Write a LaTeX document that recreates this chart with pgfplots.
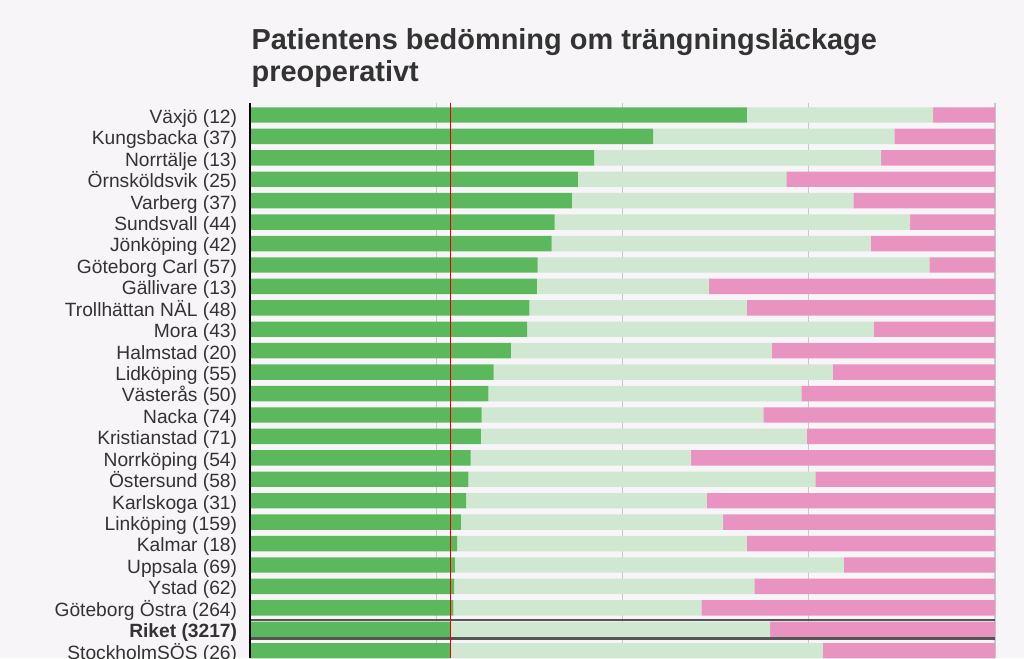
\documentclass[border=0pt]{standalone}
\usepackage{pgfplots}
\pgfplotsset{compat=1.18}
\usepackage{pgfplotstable}
\usepackage{fontspec}
\setmainfont{Liberation Sans}
\definecolor{bg}{HTML}{F7F5F8}
\definecolor{dgreen}{HTML}{5CB85C}
\definecolor{lgreen}{HTML}{D0E8D2}
\definecolor{pinkc}{HTML}{E994C0}
\definecolor{txt}{HTML}{333333}
\definecolor{gridc}{HTML}{C8C8C8}
\definecolor{sep}{HTML}{555555}
\definecolor{refred}{HTML}{E00000}
\pgfplotstableread{
idx g l p
0 66.7 25.0 8.3
1 54.1 32.4 13.5
2 46.2 38.5 15.3
3 44.0 28.0 28.0
4 43.2 37.8 19.0
5 40.9 47.7 11.4
6 40.5 42.8 16.7
7 38.6 52.6 8.8
8 38.5 23.1 38.4
9 37.5 29.2 33.3
10 37.2 46.5 16.3
11 35.0 35.0 30.0
12 32.7 45.5 21.8
13 32.0 42.0 26.0
14 31.1 37.8 31.1
15 31.0 43.7 25.3
16 29.6 29.6 40.8
17 29.3 46.6 24.1
18 29.0 32.3 38.7
19 28.3 35.2 36.5
20 27.8 38.9 33.3
21 27.5 52.2 20.3
22 27.4 40.3 32.3
23 27.3 33.3 39.4
24 26.9 42.9 30.2
25 26.9 50.0 23.1
}\data
\begin{document}
\begin{tikzpicture}
\useasboundingbox (-187.5pt,0pt) rectangle (580.5pt,493.5pt);
\fill[bg] (-187.5pt,0pt) rectangle (580.5pt,493.5pt);
\begin{scope}
\clip (-187.5pt,0pt) rectangle (580.5pt,493.5pt);
\node[anchor=base west, font=\fontsize{21.7}{25}\selectfont\bfseries, text=txt, inner sep=0pt] at (1pt,456.5pt) {Patientens bedömning om trängningsläckage};
\node[anchor=base west, font=\fontsize{21.7}{25}\selectfont\bfseries, text=txt, inner sep=0pt] at (1pt,432.5pt) {preoperativt};
\begin{axis}[
  at={(0pt,0pt)}, anchor=south west,
  scale only axis, width=558.75pt, height=416.5pt,
  xbar stacked, bar width=0.72,
  y dir=reverse,
  xmin=0, xmax=100, ymin=-0.574, ymax=25.34,
  axis line style={draw=none},
  major tick length=0pt,
  xtick={25,50,75,100}, xticklabels={},
  xmajorgrids, grid style={gridc, line width=0.9pt},
  ytick={0,...,25},
  yticklabels={Växjö (12),Kungsbacka (37),Norrtälje (13),Örnsköldsvik (25),Varberg (37),Sundsvall (44),Jönköping (42),Göteborg Carl (57),Gällivare (13),Trollhättan NÄL (48),Mora (43),Halmstad (20),Lidköping (55),Västerås (50),Nacka (74),Kristianstad (71),Norrköping (54),Östersund (58),Karlskoga (31),Linköping (159),Kalmar (18),Uppsala (69),Ystad (62),Göteborg Östra (264),\textbf{Riket (3217)},StockholmSÖS (26)},
  yticklabel style={anchor=base east, inner sep=0pt, xshift=-9.5pt, yshift=-6.3pt, font=\fontsize{14.4}{16}\selectfont, text=txt},
  clip=true,
]
\addplot[fill=dgreen, draw=none] table[x=g, y=idx] {\data};
\addplot[fill=lgreen, draw=none] table[x=l, y=idx] {\data};
\addplot[fill=pinkc, draw=none] table[x=p, y=idx] {\data};
\coordinate (s1a) at (axis cs:0,23.56);
\coordinate (s1b) at (axis cs:100,23.56);
\coordinate (s2a) at (axis cs:0,24.44);
\coordinate (s2b) at (axis cs:100,24.44);
\coordinate (rt) at (axis cs:26.9,-0.574);
\coordinate (rb) at (axis cs:26.9,25.34);
\coordinate (lt) at (axis cs:0,-0.574);
\coordinate (lb) at (axis cs:0,25.34);
\end{axis}
\draw[sep, line width=2pt] (s1a) -- (s1b);
\draw[sep, line width=2pt] (s2a) -- (s2b);
\draw[refred, line width=1.3pt] (rt) -- (rb);
\draw[black, line width=1.5pt] (lt) -- (lb);
\end{scope}
\end{tikzpicture}
\end{document}
